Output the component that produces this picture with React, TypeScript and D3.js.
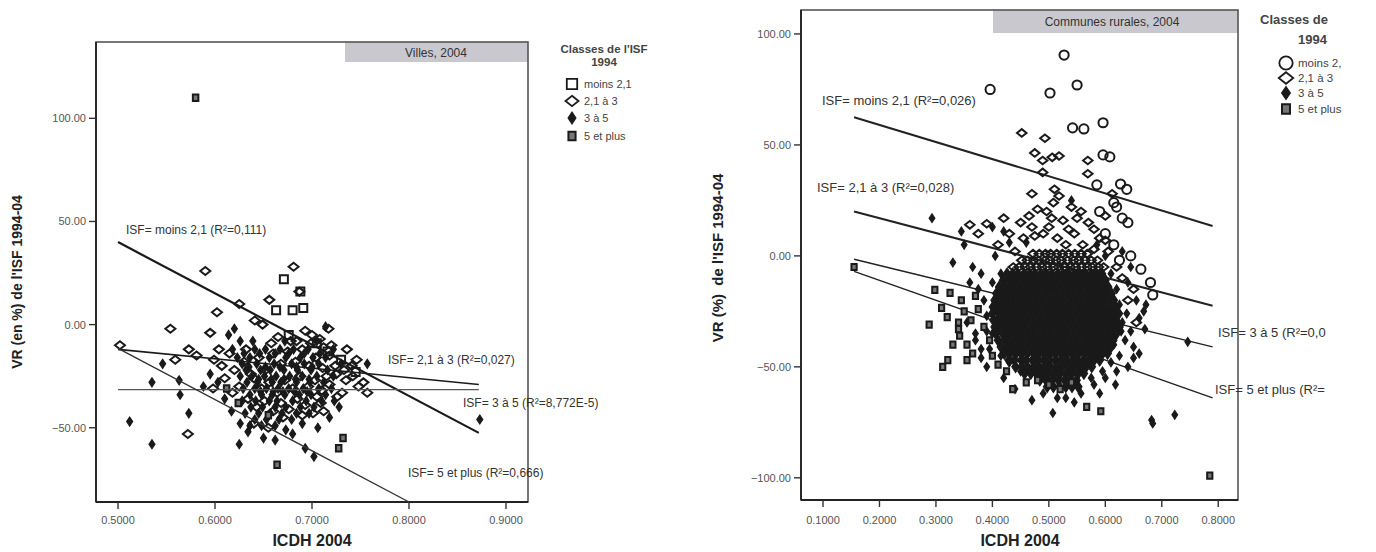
import React from "react";
import * as d3 from "d3";

type Pt = [number, number];
type Row = [number, number[]];

// ---------- Villes, 2004 ----------
const villesXTicks = [0.5, 0.6, 0.7, 0.8, 0.9];
const villesYTicks = [-50, 0, 50, 100];

const villesMoins21: Pt[] = [
  [0.671, 22], [0.663, 7], [0.68, 7], [0.691, 8], [0.688, 16], [0.676, -5],
  [0.705, -9], [0.745, -23], [0.716, -13], [0.73, -17],
];

const villes21a3: Pt[] = [
  [0.59, 26], [0.681, 28], [0.687, 16], [0.625, 10], [0.656, 12], [0.602, 6],
  [0.554, -2], [0.595, -4], [0.641, 2], [0.649, 0], [0.502, -10], [0.559, -17],
  [0.573, -12], [0.581, -15], [0.572, -53], [0.599, -17], [0.717, -2], [0.7, -5],
  [0.746, -17], [0.757, -33], [0.742, -25], [0.753, -28], [0.731, -33], [0.741, -20],
  [0.724, -20], [0.693, -3], [0.708, -7], [0.678, -8], [0.665, -6], [0.615, -14],
  [0.607, -20], [0.598, -31], [0.748, -30], [0.735, -27], [0.72, -10], [0.715, -25],
  [0.705, -35], [0.712, -42], [0.69, -44], [0.655, -50], [0.64, -48], [0.67, -45],
  [0.632, -12], [0.645, -16], [0.652, -22], [0.66, -14], [0.668, -19], [0.675, -13],
  [0.683, -18], [0.69, -12], [0.697, -20], [0.704, -16], [0.711, -21], [0.718, -15],
  [0.725, -24], [0.64, -26], [0.648, -31], [0.656, -28], [0.664, -33], [0.672, -27],
  [0.68, -31], [0.688, -25], [0.696, -30], [0.703, -27], [0.71, -32], [0.718, -29],
  [0.726, -35], [0.634, -36], [0.643, -40], [0.651, -37], [0.66, -42], [0.668, -38],
  [0.676, -41], [0.685, -36], [0.693, -39], [0.701, -43], [0.709, -38], [0.62, -22],
  [0.625, -30], [0.63, -18], [0.637, -24], [0.684, -8], [0.699, -9], [0.712, -11],
  [0.658, -9], [0.61, -26], [0.618, -33], [0.604, -12], [0.736, -12], [0.733, -22],
];

const villes3a5: Pt[] = [
  [0.512, -47], [0.535, -58], [0.535, -28], [0.546, -19], [0.564, -34], [0.573, -43],
  [0.563, -27], [0.625, -58], [0.65, -55], [0.68, -53], [0.693, -60], [0.702, -64],
  [0.69, -48], [0.873, -46], [0.757, -19], [0.714, -1], [0.62, -2], [0.614, -5],
  [0.603, -28], [0.61, -36], [0.617, -42], [0.626, -48], [0.634, -52], [0.662, -56],
  [0.673, -51], [0.706, -50], [0.718, -45], [0.728, -40], [0.588, -30], [0.595, -24],
];

// dense core of the 3 à 5 group, one row per VR level
const villes3a5Rows: Row[] = [
  [-8, [0.626, 0.639, 0.672, 0.705]],
  [-12, [0.618, 0.641, 0.652, 0.667, 0.681, 0.696, 0.722]],
  [-14, [0.63, 0.646, 0.662, 0.676, 0.692, 0.708]],
  [-16, [0.623, 0.636, 0.656, 0.673, 0.688, 0.701, 0.714]],
  [-19, [0.628, 0.643, 0.661, 0.679, 0.692, 0.707, 0.73]],
  [-20.5, [0.635, 0.652, 0.667, 0.684, 0.7]],
  [-22, [0.632, 0.647, 0.657, 0.671, 0.685, 0.699, 0.716]],
  [-25, [0.626, 0.638, 0.651, 0.663, 0.677, 0.69, 0.705, 0.722]],
  [-26.5, [0.645, 0.658, 0.671, 0.683, 0.697]],
  [-28, [0.633, 0.644, 0.659, 0.668, 0.684, 0.698, 0.712]],
  [-31, [0.629, 0.641, 0.653, 0.665, 0.676, 0.691, 0.707, 0.72]],
  [-32.5, [0.647, 0.66, 0.67, 0.682, 0.695]],
  [-34, [0.636, 0.648, 0.659, 0.672, 0.687, 0.699, 0.714]],
  [-37, [0.628, 0.642, 0.656, 0.664, 0.68, 0.694, 0.71, 0.723]],
  [-40, [0.637, 0.649, 0.662, 0.673, 0.688, 0.702]],
  [-43, [0.631, 0.645, 0.657, 0.669, 0.684, 0.697]],
  [-46, [0.641, 0.653, 0.666, 0.679]],
  [-49, [0.636, 0.648, 0.662]],
];

const villes5plus: Pt[] = [
  [0.58, 110], [0.7275, -60], [0.664, -68], [0.624, -38], [0.612, -31], [0.655, -44],
  [0.732, -55],
];

const villesLineX0 = [0.5, 0.5, 0.5, 0.5];
const villesLineX1 = [0.872, 0.872, 0.872, 0.8];
const villesLineY0 = [40, -12, -31.5, -11.5];
const villesLineY1 = [-52.5, -29, -31.5, -86];
const villesFitLabels = [
  "ISF= moins 2,1 (R²=0,111)",
  "ISF= 2,1 à 3 (R²=0,027)",
  "ISF= 3 à 5 (R²=8,772E-5)",
  "ISF= 5 et plus (R²=0,666)",
];
const villesLegend = ["moins 2,1", "2,1 à 3", "3 à 5", "5 et plus"];

// ---------- Communes rurales, 2004 ----------
const ruralXTicks = [0.1, 0.2, 0.3, 0.4, 0.5, 0.6, 0.7, 0.8];
const ruralYTicks = [-100, -50, 0, 50, 100];

const ruralMoins21: Pt[] = [
  [0.527, 90.5], [0.396, 75], [0.502, 73.4], [0.55, 77], [0.542, 57.7], [0.562, 57.2],
  [0.596, 60], [0.596, 45.5], [0.608, 44.6], [0.585, 32], [0.627, 32.4], [0.638, 30],
  [0.615, 24], [0.62, 22], [0.63, 17], [0.64, 15], [0.663, -6], [0.68, -12],
  [0.684, -17.6], [0.615, 5], [0.645, 0], [0.6, 10], [0.59, 20], [0.625, -2],
];

const rural21a3: Pt[] = [
  [0.452, 55.4], [0.493, 53], [0.475, 46.4], [0.489, 43], [0.506, 44.4], [0.518, 45],
  [0.569, 43], [0.569, 37], [0.489, 37.6], [0.47, 28], [0.51, 30], [0.518, 27],
  [0.508, 24], [0.54, 22], [0.557, 20], [0.48, 21], [0.496, 20], [0.475, 9],
  [0.6, 7], [0.39, 14.5], [0.612, 28], [0.6, 18], [0.58, 12], [0.45, 15],
  [0.43, 10], [0.5, 13], [0.525, 16], [0.545, 10], [0.56, 5], [0.41, 5],
  [0.44, 2], [0.62, -5], [0.63, -10], [0.64, -20], [0.65, -15], [0.61, -25],
  [0.58, 3], [0.53, 5], [0.465, 18], [0.515, 8], [0.36, 14], [0.375, 10],
  [0.42, 17], [0.655, -30], [0.6, -35], [0.49, 10], [0.535, 12], [0.57, 15],
  [0.59, 8], [0.455, 8], [0.505, 17], [0.55, 17], [0.605, 2], [0.47, 13],
];

const rural21a3Rows: Row[] = [
  [1, [0.472, 0.483, 0.494, 0.503, 0.514, 0.524, 0.535, 0.546, 0.557, 0.568]],
  [-2, [0.452, 0.462, 0.473, 0.482, 0.493, 0.502, 0.513, 0.522, 0.533, 0.544, 0.553, 0.564, 0.575, 0.586]],
  [-5, [0.437, 0.447, 0.458, 0.467, 0.478, 0.488, 0.497, 0.508, 0.517, 0.528, 0.538, 0.547, 0.558, 0.568, 0.577, 0.588, 0.597]],
];

const rural3a5: Pt[] = [
  [0.293, 17], [0.54, 25], [0.746, -38.7], [0.723, -71.6], [0.507, -70.8], [0.682, -74],
  [0.684, -75.5], [0.35, 5], [0.33, -3], [0.38, -8], [0.36, -12], [0.345, 11],
  [0.4, 13], [0.42, 11], [0.46, 6], [0.66, -28], [0.668, -25], [0.67, -33],
  [0.672, -22], [0.65, -41], [0.66, -44], [0.65, -46], [0.44, -60], [0.47, -65],
  [0.49, -62], [0.53, -64], [0.557, -62], [0.58, -58], [0.6, -55], [0.62, -52],
  [0.64, -50], [0.42, -55], [0.45, -52], [0.39, -50], [0.38, -42], [0.37, -35],
  [0.39, -27], [0.635, -38], [0.645, -5], [0.63, 2], [0.62, -15], [0.625, -22],
  [0.63, -30], [0.615, -40], [0.61, -48], [0.595, -52], [0.575, -55], [0.56, -52],
  [0.415, -8], [0.405, 0], [0.43, 6], [0.585, 5], [0.6, 0], [0.61, -8],
  [0.64, -12], [0.655, -20], [0.645, -34], [0.625, -45], [0.4, -35], [0.395, -42],
  [0.41, -30], [0.375, -15], [0.365, -5], [0.355, -30], [0.37, -38], [0.38, -46],
  [0.415, -45], [0.43, -48], [0.385, -20], [0.39, -34], [0.4, -12], [0.405, -24],
  [0.638, -26], [0.628, -34], [0.618, -58], [0.59, -62], [0.545, -66], [0.515, -64],
];

// dense core of the 3 à 5 group, one row per VR level
const rural3a5Rows: Row[] = [
  [-8, [0.426, 0.436, 0.445, 0.456, 0.466, 0.475, 0.486, 0.495, 0.505, 0.516, 0.525, 0.534, 0.545, 0.555, 0.564, 0.575, 0.584, 0.594]],
  [-11, [0.419, 0.43, 0.44, 0.45, 0.46, 0.471, 0.48, 0.49, 0.501, 0.51, 0.521, 0.53, 0.54, 0.55, 0.56, 0.57, 0.58, 0.59, 0.6]],
  [-14, [0.412, 0.423, 0.434, 0.444, 0.455, 0.465, 0.474, 0.485, 0.495, 0.504, 0.515, 0.525, 0.535, 0.544, 0.555, 0.566, 0.575, 0.585, 0.594, 0.605]],
  [-17, [0.407, 0.418, 0.428, 0.438, 0.449, 0.459, 0.469, 0.479, 0.489, 0.5, 0.51, 0.52, 0.53, 0.54, 0.549, 0.559, 0.57, 0.58, 0.59, 0.6, 0.611]],
  [-20, [0.404, 0.413, 0.423, 0.433, 0.443, 0.453, 0.463, 0.474, 0.484, 0.494, 0.505, 0.514, 0.524, 0.535, 0.545, 0.555, 0.565, 0.574, 0.584, 0.595, 0.605, 0.615]],
  [-23, [0.401, 0.409, 0.418, 0.428, 0.438, 0.448, 0.458, 0.468, 0.478, 0.489, 0.499, 0.509, 0.519, 0.529, 0.539, 0.55, 0.56, 0.57, 0.58, 0.59, 0.6, 0.61, 0.618]],
  [-26, [0.4, 0.413, 0.423, 0.434, 0.443, 0.453, 0.464, 0.473, 0.483, 0.494, 0.503, 0.514, 0.524, 0.534, 0.544, 0.555, 0.564, 0.575, 0.585, 0.595, 0.605, 0.615, 0.624]],
  [-29, [0.402, 0.408, 0.418, 0.428, 0.439, 0.448, 0.458, 0.469, 0.478, 0.488, 0.498, 0.509, 0.518, 0.529, 0.539, 0.549, 0.559, 0.569, 0.58, 0.59, 0.6, 0.61, 0.619]],
  [-32, [0.404, 0.413, 0.423, 0.433, 0.444, 0.453, 0.463, 0.474, 0.484, 0.493, 0.503, 0.514, 0.524, 0.534, 0.544, 0.554, 0.565, 0.574, 0.584, 0.595, 0.605, 0.614, 0.625]],
  [-35, [0.406, 0.418, 0.428, 0.438, 0.448, 0.459, 0.468, 0.478, 0.489, 0.498, 0.508, 0.519, 0.529, 0.538, 0.549, 0.559, 0.569, 0.579, 0.589, 0.599, 0.61, 0.62]],
  [-38, [0.41, 0.422, 0.432, 0.443, 0.453, 0.463, 0.473, 0.483, 0.493, 0.503, 0.514, 0.523, 0.533, 0.544, 0.553, 0.564, 0.574, 0.584, 0.594, 0.605, 0.614]],
  [-41, [0.415, 0.426, 0.437, 0.447, 0.458, 0.468, 0.478, 0.488, 0.498, 0.508, 0.518, 0.528, 0.539, 0.548, 0.558, 0.569, 0.579, 0.589, 0.6, 0.61]],
  [-44, [0.421, 0.431, 0.442, 0.452, 0.462, 0.473, 0.483, 0.493, 0.503, 0.513, 0.523, 0.533, 0.543, 0.553, 0.564, 0.574, 0.584, 0.595, 0.604]],
  [-47, [0.429, 0.439, 0.451, 0.46, 0.471, 0.48, 0.491, 0.5, 0.511, 0.521, 0.53, 0.541, 0.55, 0.561, 0.571, 0.58, 0.59]],
  [-50, [0.441, 0.452, 0.462, 0.473, 0.483, 0.494, 0.503, 0.514, 0.524, 0.535, 0.545, 0.556, 0.566, 0.576]],
  [-53, [0.457, 0.468, 0.478, 0.489, 0.499, 0.51, 0.52, 0.531, 0.541, 0.552, 0.562]],
  [-56, [0.484, 0.495, 0.506, 0.517, 0.528, 0.538, 0.549]],
  [-59, [0.497, 0.508, 0.519, 0.53, 0.541, 0.552]],
];

const rural5plus: Pt[] = [
  [0.288, -31], [0.298, -15.3], [0.325, -16.7], [0.31, -23.4], [0.312, -50], [0.321, -47],
  [0.355, -47], [0.355, -40], [0.34, -30], [0.34, -33], [0.342, -36], [0.362, -29],
  [0.32, -27.6], [0.436, -60], [0.567, -68], [0.592, -70], [0.785, -99], [0.155, -5],
  [0.345, -20], [0.37, -18], [0.375, -24], [0.385, -32], [0.395, -38], [0.4, -45],
  [0.41, -49], [0.425, -52], [0.46, -57], [0.48, -56], [0.5, -58], [0.52, -60],
  [0.54, -57], [0.33, -40], [0.35, -25], [0.365, -44],
];

const ruralLineX0 = [0.155, 0.155, 0.155, 0.155];
const ruralLineX1 = [0.79, 0.79, 0.79, 0.79];
const ruralLineY0 = [62.5, 20, -1.5, -7];
const ruralLineY1 = [13.5, -22.5, -41, -64];
const ruralFitLabels = [
  "ISF= moins 2,1 (R²=0,026)",
  "ISF= 2,1 à 3 (R²=0,028)",
  "ISF= 3 à 5 (R²=0,0",
  "ISF= 5 et plus (R²=",
];
const ruralLegend = ["moins 2,", "2,1 à 3", "3 à 5", "5 et plus"];

// ---------- drawing helpers ----------
const FONT = "'Liberation Sans', Arial, Helvetica, sans-serif";
const INK = "#1a1a1a";

const fromRows = (rows: Row[]): Pt[] =>
  rows.flatMap(([y, xs]) => xs.map((x) => [x, y] as Pt));

const diamondPath = (w: number, h: number) =>
  `M0,${-h / 2}L${w / 2},0L0,${h / 2}L${-w / 2},0Z`;
const squarePath = (w: number, h: number) =>
  `M${-w / 2},${-h / 2}h${w}v${h}h${-w}Z`;

type Kind = "square" | "circle" | "diamond" | "thin" | "small";

function Marker({ kind, x, y, big = 1, sw = 2 }: {
  kind: Kind; x: number; y: number; big?: number; sw?: number;
}) {
  const t = `translate(${x},${y}) scale(${big})`;
  const common = { fill: "none", stroke: INK, strokeWidth: sw / big };
  if (kind === "circle") return <circle cx={x} cy={y} r={4.6 * big} fill="none" stroke={INK} strokeWidth={sw} />;
  if (kind === "square") return <path transform={t} d={squarePath(8, 8)} {...common} />;
  if (kind === "diamond") return <path transform={t} d={diamondPath(10, 8)} {...common} />;
  if (kind === "thin")
    return <path transform={t} d={diamondPath(6, 9)} fill={INK} stroke={INK} strokeWidth={1.2 / big} />;
  return <path transform={t} d={squarePath(5.5, 6.5)} fill="#777" stroke={INK} strokeWidth={2 / big} />;
}

function Villes() {
  const x = d3.scaleLinear().domain([0.4773, 0.9227]).range([96, 528]);
  const y = d3.scaleLinear().domain([-86, 137]).range([502, 42]);
  const fx = d3.format(".4f");
  const fy = d3.format(".2f");
  const lineW = [2.2, 1.6, 1.4, 1.4];
  const lineC = [INK, INK, "#555", "#333"];
  const labelPos: [number, number][] = [[126, 234], [388, 364], [463, 407], [408, 477]];
  const legendKinds: Kind[] = ["square", "diamond", "thin", "small"];
  const legendY = [88, 105, 122, 140];
  return (
    <g fontFamily={FONT}>
      <rect x={345} y={42} width={183} height={20} fill="#c8c8ce" />
      <text x={436} y={56.5} fontSize={12} fill="#333" textAnchor="middle">Villes, 2004</text>
      <rect x={96} y={42} width={432} height={460} fill="none" stroke="#555" strokeWidth={1.6} />
      <line x1={96} x2={96} y1={42} y2={502} stroke="#222" strokeWidth={1.8} />
      <line x1={96} x2={528} y1={502} y2={502} stroke="#222" strokeWidth={1.8} />
      {villesYTicks.map((v) => (
        <g key={v}>
          <line x1={89} x2={96} y1={y(v)} y2={y(v)} stroke="#333" strokeWidth={1.4} />
          <text x={86} y={y(v) + 4} fontSize={11} fill="#555" textAnchor="end">{fy(v)}</text>
        </g>
      ))}
      {villesXTicks.map((v) => (
        <g key={v}>
          <line x1={x(v)} x2={x(v)} y1={502} y2={509} stroke="#333" strokeWidth={1.4} />
          <text x={x(v)} y={524} fontSize={11} fill="#555" textAnchor="middle">{fx(v)}</text>
        </g>
      ))}
      <text x={312} y={546} fontSize={16} fontWeight="bold" fill="#222" textAnchor="middle">ICDH 2004</text>
      <text transform="translate(22,282) rotate(-90)" fontSize={14} fontWeight="bold" fill="#222" textAnchor="middle">
        VR (en %) de l'ISF 1994-04
      </text>
      {villes21a3.map(([a, b], i) => <Marker key={"d" + i} kind="diamond" x={x(a)} y={y(b)} />)}
      {villes3a5.concat(fromRows(villes3a5Rows)).map(([a, b], i) => <Marker key={"t" + i} kind="thin" x={x(a)} y={y(b)} />)}
      {villesMoins21.map(([a, b], i) => <Marker key={"s" + i} kind="square" x={x(a)} y={y(b)} />)}
      {villes5plus.map(([a, b], i) => <Marker key={"p" + i} kind="small" x={x(a)} y={y(b)} />)}
      {villesLineX0.map((x0, i) => (
        <line key={i} x1={x(x0)} y1={y(villesLineY0[i])} x2={x(villesLineX1[i])} y2={y(villesLineY1[i])}
          stroke={lineC[i]} strokeWidth={lineW[i]} />
      ))}
      {villesFitLabels.map((t, i) => (
        <text key={t} x={labelPos[i][0]} y={labelPos[i][1]} fontSize={12} fill="#333">{t}</text>
      ))}
      <text x={604} y={53} fontSize={11.5} fill="#444" textAnchor="middle" fontWeight="bold">Classes de l'ISF</text>
      <text x={604} y={66} fontSize={11.5} fill="#444" textAnchor="middle" fontWeight="bold">1994</text>
      {villesLegend.map((t, i) => (
        <g key={t}>
          <Marker kind={legendKinds[i]} x={572} y={legendY[i] - 4} big={1.3} sw={1.8} />
          <text x={584} y={legendY[i]} fontSize={11} fill="#444">{t}</text>
        </g>
      ))}
    </g>
  );
}

function Rural() {
  const x = d3.scaleLinear().domain([0.061, 0.835]).range([801, 1238]);
  const y = d3.scaleLinear().domain([-110, 110.8]).range([500, 10]);
  const fx = d3.format(".4f");
  const fy = d3.format(".2f");
  const lineW = [2, 2, 1.4, 1.4];
  const labelPos: [number, number][] = [[822, 105], [817, 192], [1218, 337], [1215, 394]];
  const legendKinds: Kind[] = ["circle", "diamond", "thin", "small"];
  const legendY = [67, 82, 97, 113];
  const core = fromRows(rural3a5Rows);
  const dia = rural21a3.concat(fromRows(rural21a3Rows));
  return (
    <g fontFamily={FONT}>
      <rect x={993} y={10} width={245} height={23} fill="#c8c8ce" />
      <text x={1112} y={26} fontSize={12} fill="#333" textAnchor="middle">Communes rurales, 2004</text>
      <rect x={801} y={10} width={437} height={490} fill="none" stroke="#555" strokeWidth={1.6} />
      <line x1={801} x2={801} y1={10} y2={500} stroke="#222" strokeWidth={1.8} />
      <line x1={801} x2={1238} y1={500} y2={500} stroke="#222" strokeWidth={1.8} />
      {ruralYTicks.map((v) => (
        <g key={v}>
          <line x1={794} x2={801} y1={y(v)} y2={y(v)} stroke="#333" strokeWidth={1.4} />
          <text x={791} y={y(v) + 4} fontSize={11} fill="#555" textAnchor="end">{fy(v)}</text>
        </g>
      ))}
      {ruralXTicks.map((v) => (
        <g key={v}>
          <line x1={x(v)} x2={x(v)} y1={500} y2={507} stroke="#333" strokeWidth={1.4} />
          <text x={x(v)} y={524} fontSize={11} fill="#555" textAnchor="middle">{fx(v)}</text>
        </g>
      ))}
      <text x={1020} y={546} fontSize={16} fontWeight="bold" fill="#222" textAnchor="middle">ICDH 2004</text>
      <text transform="translate(723,258) rotate(-90)" fontSize={15} fontWeight="bold" fill="#222"
        textAnchor="middle" style={{ whiteSpace: "pre" }}>
        {"VR (%)  de l'ISF 1994-04"}
      </text>
      {ruralLineX0.map((x0, i) => (
        <line key={i} x1={x(x0)} y1={y(ruralLineY0[i])} x2={x(ruralLineX1[i])} y2={y(ruralLineY1[i])}
          stroke="#222" strokeWidth={lineW[i]} />
      ))}
      {ruralMoins21.map(([a, b], i) => <Marker key={"c" + i} kind="circle" x={x(a)} y={y(b)} />)}
      {dia.map(([a, b], i) => <Marker key={"d" + i} kind="diamond" x={x(a)} y={y(b)} big={0.95} />)}
      {rural3a5.map(([a, b], i) => <Marker key={"t" + i} kind="thin" x={x(a)} y={y(b)} big={0.95} />)}
      {core.map(([a, b], i) => <Marker key={"k" + i} kind="thin" x={x(a)} y={y(b)} big={1.25} />)}
      {rural5plus.map(([a, b], i) => <Marker key={"p" + i} kind="small" x={x(a)} y={y(b)} big={0.95} />)}
      {ruralFitLabels.map((t, i) => (
        <text key={t} x={labelPos[i][0]} y={labelPos[i][1]} fontSize={13} fill="#333">{t}</text>
      ))}
      <text x={1260} y={24} fontSize={13} fill="#444" fontWeight="bold">Classes de</text>
      <text x={1298} y={44} fontSize={13} fill="#444" fontWeight="bold">1994</text>
      {ruralLegend.map((t, i) => (
        <g key={t}>
          <Marker kind={legendKinds[i]} x={1286} y={legendY[i] - 4} big={1.45} sw={1.8} />
          <text x={1298} y={legendY[i]} fontSize={11.5} fill="#444">{t}</text>
        </g>
      ))}
    </g>
  );
}

export default function App() {
  return (
    <svg width={1376} height={552} style={{ position: "absolute", left: 0, top: 0, background: "#fff" }}>
      <rect width={1376} height={552} fill="#fff" />
      <Villes />
      <Rural />
    </svg>
  );
}
